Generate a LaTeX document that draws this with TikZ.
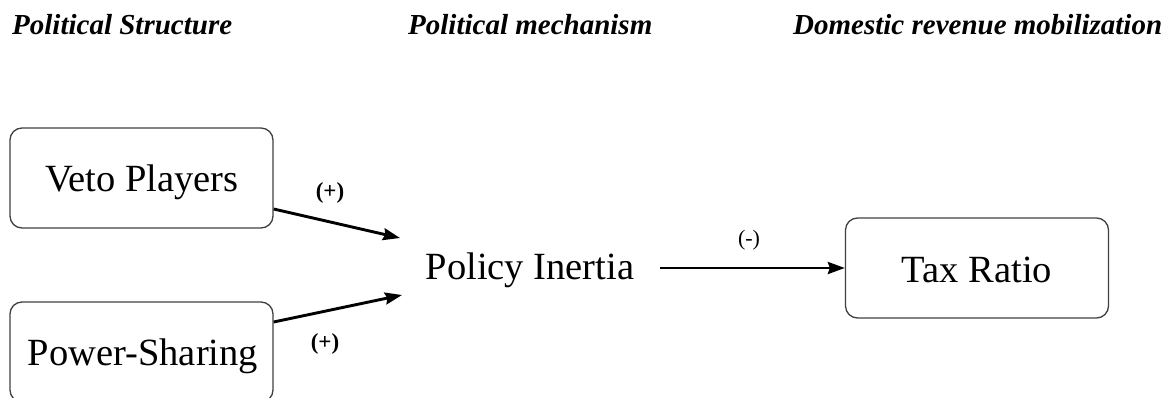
\documentclass[tikz,border=0pt]{standalone}
\usepackage{fontspec}
\setmainfont{Liberation Serif}
\usetikzlibrary{arrows.meta}
\begin{document}
\begin{tikzpicture}[x=1pt,y=-1pt,
  box/.style={draw=black!75,line width=1.3pt,rounded corners=12pt,minimum width=263pt,minimum height=100pt,inner sep=0pt},
  big/.style={inner sep=0pt,font=\fontsize{38.5}{44}\selectfont},
  head/.style={font=\bfseries\itshape\fontsize{29}{33}\selectfont,anchor=west,inner sep=0pt},
  lbl/.style={font=\bfseries\fontsize{23}{26}\selectfont,inner sep=0pt},
  arr/.style={line width=2.9pt,-{Stealth[length=17pt,width=12pt,inset=2pt]}}]
\useasboundingbox (0,0) rectangle (1167,398);
\node[head] (h1) at (12,25) {Political Structure};
\node[head] (h2) at (408,25) {Political mechanism};
\node[head] (h3) at (793,25) {Domestic revenue mobilization};
\node[box] (veto) at (141.5,178) {};
\node[big] (vetot) at (142,182) {Veto Players};
\node[box] (power) at (141.5,352) {};
\node[big] (powert) at (143,356) {Power-Sharing};
\node[box] (tax) at (977,268) {};
\node[big] (taxt) at (977,270) {Tax Ratio};
\node[big] (pi) at (530,270) {Policy Inertia};
\coordinate (a1) at (400,238);
\coordinate (a2) at (402,295);
\coordinate (a3s) at (660,268);
\draw[arr] ([yshift=-31pt]veto.east) -- (a1);
\draw[arr] ([yshift=30pt]power.east) -- (a2);
\draw[arr] (a3s) -- (tax.west);
\node[lbl] (l1) at (330,193) {(+)};
\node[lbl] (l2) at (325,344) {(+)};
\node[font=\fontsize{22}{25}\selectfont,inner sep=0pt] (l3) at (749,240) {(-)};
\end{tikzpicture}
\end{document}
